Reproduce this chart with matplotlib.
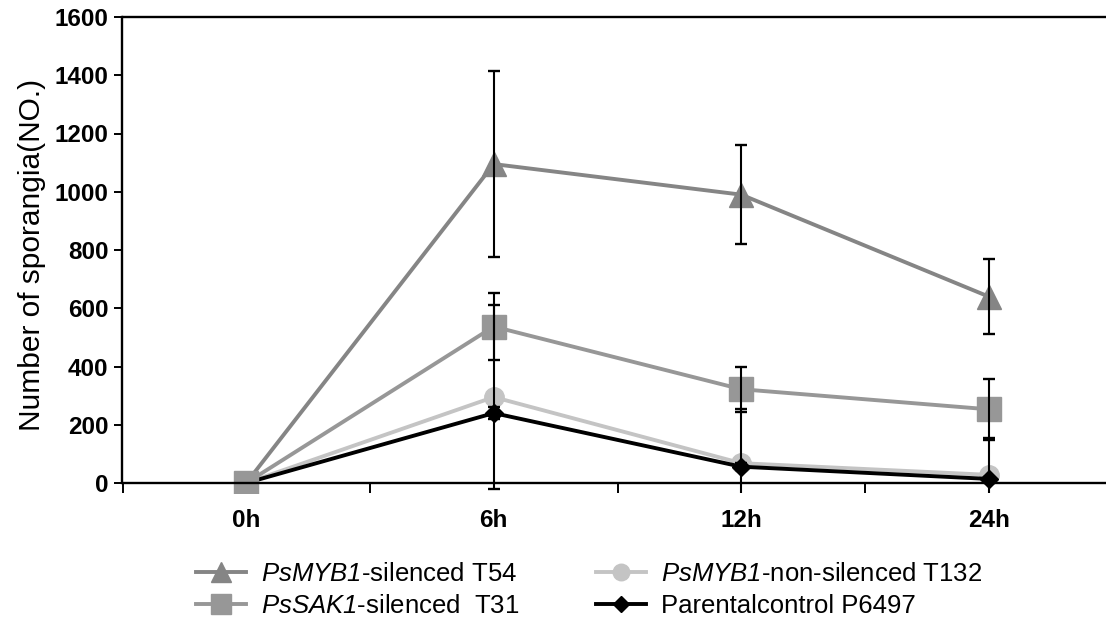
import numpy as np
import matplotlib
matplotlib.use("Agg")
import matplotlib.pyplot as plt

plt.rcParams['font.family'] = ['Liberation Sans', 'DejaVu Sans']
plt.rcParams['mathtext.fontset'] = 'custom'
plt.rcParams['mathtext.it'] = 'Liberation Sans:italic'
plt.rcParams['mathtext.rm'] = 'Liberation Sans:italic'

times = ["0h", "6h", "12h", "24h"]
t54 = [0, 1095, 990, 640]
t54_err = [0, 318, 170, 130]
t31 = [0, 537, 322, 253]
t31_err = [0, 116, 77, 105]
t132 = [0, 295, 68, 28]
t132_err = [0, 317, 186, 125]
ctrl = [0, 240, 56, 14]
ctrl_err = [0, 20, 12, 8]

labels = [r"$\mathit{PsMYB1}$-silenced T54",
          r"$\mathit{PsSAK1}$-silenced  T31",
          r"$\mathit{PsMYB1}$-non-silenced T132",
          "Parentalcontrol P6497"]

W, H = 1106, 624
fig = plt.figure(figsize=(W / 100, H / 100), dpi=100)
y0 = 483.0
ytop = 17.0
ppu = (y0 - ytop) / 1600.0
ymin = -33.0
bottom_px = y0 - ymin * ppu
left_px, right_px = 122.5, 1112.5
ax = fig.add_axes([left_px / W, 1 - bottom_px / H, (right_px - left_px) / W, (bottom_px - ytop) / H])

x = np.arange(len(times))
series = [
    (t54, t54_err, '#858585', '^', 17, 2.0),
    (t132, t132_err, '#c4c4c4', 'o', 14, 2.1),
    (ctrl, ctrl_err, '#000000', 'D', 9, 2.2),
    (t31, t31_err, '#979797', 's', 17, 2.3),
]
handles = {}
for (vals, err, col, mk, ms, z) in series:
    h, = ax.plot(x, vals, color=col, lw=2.8, marker=mk, markersize=ms,
                 markerfacecolor=col, markeredgecolor=col, zorder=z)
    handles[mk] = h
    v = np.array(vals, float)
    e = np.array(err, float)
    m = e > 0
    ax.errorbar(x[m], v[m], yerr=e[m], fmt='none', ecolor='black',
                elinewidth=1.5, capsize=4.5, capthick=1.7, zorder=5)

ax.set_xlim(-0.5, 3.5)
ax.set_ylim(ymin, 1600)
ax.spines['bottom'].set_position(('data', 0))
ax.spines['left'].set_bounds(0, 1600)
ax.spines['right'].set_visible(False)
for s in ['bottom', 'left', 'top']:
    ax.spines[s].set_linewidth(1.7)

ax.set_yticks(np.arange(0, 1601, 200))
ax.set_xticks([-0.5, 0.5, 1.5, 2.5, 3.5])
ax.set_xticklabels([])
ax.set_xticks(x, minor=True)
ax.set_xticklabels(times, minor=True)
ax.tick_params(axis='x', which='major', direction='out', length=7.5, width=1.4)
ax.tick_params(axis='x', which='minor', length=0, pad=19, labelsize=17.5)
ax.tick_params(axis='y', direction='out', length=6, width=1.4, labelsize=17.5, pad=4)
for lab in ax.get_yticklabels() + ax.get_xticklabels(minor=True):
    lab.set_fontweight('bold')

ax.set_ylabel("Number of sporangia(NO.)", fontsize=21.5, labelpad=6)

order = ['^', 's', 'o', 'D']
fig.legend([handles[k] for k in order], labels, ncol=2,
           loc='center', bbox_to_anchor=(589 / W, 1 - 590 / H),
           frameon=False, fontsize=18.5, handlelength=1.95, handletextpad=0.58,
           columnspacing=3.0, labelspacing=0.3, markerscale=0.85,
           borderpad=0.2)

fig.savefig("out.png", dpi=100)
